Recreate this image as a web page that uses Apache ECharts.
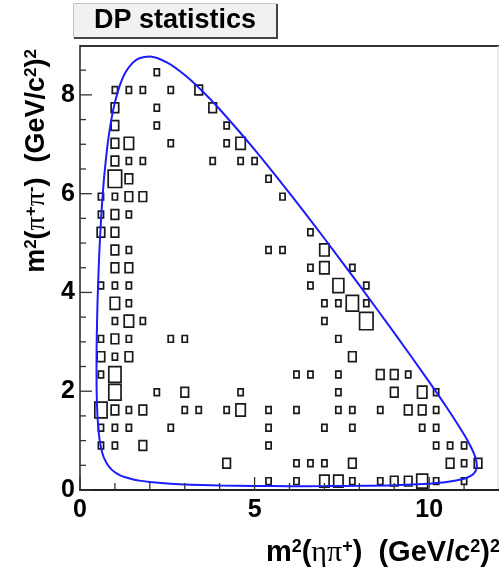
<!DOCTYPE html>
<html><head><meta charset="utf-8">
<script src="https://cdn.jsdelivr.net/npm/echarts@6/dist/echarts.min.js"></script>
<style>html,body{margin:0;padding:0;background:#fff}#c{width:499px;height:569px}</style>
</head><body><div id="c"></div>
<script>
// ---- data ----
const titleText = 'DP statistics';
const xRange = [0, 12];
const yRange = [0, 9];
const xMajor = 5;
const yMajor = 2;
const xMajorTicks = [0, 5, 10];
const xMinorTicks = [1, 2, 3, 4, 6, 7, 8, 9, 11];
const yMajorTicks = [0, 2, 4, 6, 8];
const yMinorTicks = [0.5, 1, 1.5, 2.5, 3, 3.5, 4.5, 5, 5.5, 6.5, 7, 7.5, 8.5];
const binW = 0.4;   // x bin width (GeV/c^2)^2
const binH = 0.36;  // y bin width
const maxCount = 6;

// filled bins: centre x, centre y, entries
const boxX = [
  2.2,
  1.0,1.4,1.8,2.6,3.4,
  1.0,2.2,3.8,
  1.0,2.2,4.2,
  1.0,1.4,2.6,4.2,4.6,
  1.0,1.4,1.8,3.8,4.6,5.0,
  1.0,1.4,5.4,
  0.6,1.0,1.4,1.8,5.8,
  0.6,1.0,1.4,
  0.6,1.0,6.6,
  1.0,1.4,5.4,5.8,7.0,
  1.0,1.4,6.6,7.0,7.8,
  0.6,1.0,1.4,6.6,7.4,8.2,
  1.0,1.4,7.0,7.4,7.8,8.2,
  1.0,1.4,1.8,7.0,8.2,
  0.6,1.0,1.4,2.6,3.0,7.4,
  0.6,1.0,1.4,7.8,
  0.6,1.0,6.2,6.6,7.4,8.6,9.0,9.4,
  1.0,2.2,3.0,4.6,7.4,9.0,9.8,10.2,
  0.6,1.0,1.4,1.8,3.0,3.4,4.2,4.6,5.4,6.2,7.4,7.8,8.6,9.4,9.8,10.2,
  0.6,1.0,1.4,2.6,5.4,7.0,7.8,9.8,10.2,
  0.6,1.0,1.8,5.4,10.2,10.6,11.0,
  4.2,6.2,6.6,7.0,7.8,10.6,11.0,11.4,
  5.4,6.2,7.0,7.4,7.8,8.6,9.0,9.4,9.8,10.2,11.0
];
const boxY = [
  8.46,
  8.1,8.1,8.1,8.1,8.1,
  7.74,7.74,7.74,
  7.38,7.38,7.38,
  7.02,7.02,7.02,7.02,7.02,
  6.66,6.66,6.66,6.66,6.66,6.66,
  6.3,6.3,6.3,
  5.94,5.94,5.94,5.94,5.94,
  5.58,5.58,5.58,
  5.22,5.22,5.22,
  4.86,4.86,4.86,4.86,4.86,
  4.5,4.5,4.5,4.5,4.5,
  4.14,4.14,4.14,4.14,4.14,4.14,
  3.78,3.78,3.78,3.78,3.78,3.78,
  3.42,3.42,3.42,3.42,3.42,
  3.06,3.06,3.06,3.06,3.06,3.06,
  2.7,2.7,2.7,2.7,
  2.34,2.34,2.34,2.34,2.34,2.34,2.34,2.34,
  1.98,1.98,1.98,1.98,1.98,1.98,1.98,1.98,
  1.62,1.62,1.62,1.62,1.62,1.62,1.62,1.62,1.62,1.62,1.62,1.62,1.62,1.62,1.62,1.62,
  1.26,1.26,1.26,1.26,1.26,1.26,1.26,1.26,1.26,
  0.9,0.9,0.9,0.9,0.9,0.9,0.9,
  0.54,0.54,0.54,0.54,0.54,0.54,0.54,0.54,
  0.18,0.18,0.18,0.18,0.18,0.18,0.18,0.18,0.18,0.18,0.18
];
const boxN = [
  1,
  1,1,1,1,2,
  2,1,2,
  2,1,1,
  2,3,1,1,3,
  2,1,1,1,1,1,
  6,2,1,
  1,1,2,2,1,
  1,2,1,
  2,2,1,
  2,1,1,1,3,
  2,2,1,3,1,
  1,1,1,1,4,1,
  3,1,1,1,5,1,
  1,3,1,1,6,
  1,2,1,1,1,1,
  2,1,2,2,
  1,5,1,1,1,2,2,1,
  5,1,2,1,1,2,3,1,
  5,2,1,2,1,1,1,3,1,1,1,1,1,2,2,1,
  1,1,1,1,1,1,1,1,1,
  1,1,2,1,1,1,1,
  2,1,1,1,2,2,1,2,
  1,1,3,3,1,1,2,2,4,1,1
];

// Dalitz-plot boundary
const curveX = [0.4726,0.475,0.48,0.5,0.55,0.6,0.65,0.7,0.8,0.9,1.0,1.15,1.3,1.5,1.7,2.0,2.5,3.0,3.5,4.0,5.0,6.0,7.0,8.0,9.0,10.0,10.5,11.0,11.2,11.3,11.35,11.3645,
  11.35,11.3,11.2,11.0,10.5,10.0,9.0,8.0,7.0,6.0,5.0,4.0,3.5,3.0,2.5,2.0,1.7,1.5,1.3,1.15,1.0,0.9,0.8,0.7,0.65,0.6,0.55,0.5,0.48,0.475,0.4726];
const curveY = [2.441,2.798,3.087,3.757,4.757,5.445,5.975,6.401,7.047,7.509,7.851,8.212,8.451,8.644,8.743,8.777,8.652,8.401,8.078,7.709,6.892,6.010,5.092,4.147,3.182,2.190,1.675,1.122,0.865,0.705,0.587,0.498,
  0.423,0.354,0.291,0.228,0.160,0.129,0.098,0.085,0.079,0.078,0.082,0.091,0.0996,0.111,0.130,0.161,0.190,0.217,0.257,0.298,0.359,0.417,0.500,0.629,0.725,0.862,1.077,1.501,1.901,2.120,2.441];

// ---- chart ----
const chart = echarts.init(document.getElementById('c'), null, {renderer: 'canvas'});
const boxData = boxX.map((x, i) => [x, boxY[i], boxN[i]]);
const curveData = curveX.map((x, i) => [x, curveY[i]]);
// tick marks: [x, y, kind]  kind: 1 = x major, 0 = x minor, 3 = y major, 2 = y minor
const tickData = []
  .concat(xMajorTicks.map(v => [v, yRange[0], 1]))
  .concat(xMinorTicks.map(v => [v, yRange[0], 0]))
  .concat(yMajorTicks.map(v => [xRange[0], v, 3]))
  .concat(yMinorTicks.map(v => [xRange[0], v, 2]));

const FONT = '"Liberation Sans", Arial, Helvetica, sans-serif';
const SERIF = '"Liberation Serif", "Times New Roman", serif';

const labelStyle = {color: '#000', fontFamily: FONT, fontWeight: 'bold', fontSize: 25};
function richSet(big, sup) {
  return {
    b: {fontFamily: FONT, fontWeight: 'bold', fontSize: big, color: '#000'},
    g: {fontFamily: SERIF, fontSize: big + 1, color: '#000'},
    s: {fontFamily: FONT, fontWeight: 'bold', fontSize: sup, color: '#000', verticalAlign: 'top'}
  };
}

chart.setOption({
  animation: false,
  backgroundColor: '#fff',
  grid: {left: 80, top: 45.5, width: 419, height: 444.5, containLabel: false},
  xAxis: {
    type: 'value', min: xRange[0], max: xRange[1], interval: xMajor,
    axisLine: {show: true, onZero: false, lineStyle: {color: '#222', width: 2}},
    axisTick: {show: false},
    splitLine: {show: false},
    axisLabel: Object.assign({margin: 8, showMaxLabel: false}, labelStyle)
  },
  yAxis: {
    type: 'value', min: yRange[0], max: yRange[1], interval: yMajor,
    axisLine: {show: true, onZero: false, lineStyle: {color: '#222', width: 1.5}},
    axisTick: {show: false},
    splitLine: {show: false},
    axisLabel: Object.assign({margin: 5, showMaxLabel: false}, labelStyle)
  },
  series: [{
    type: 'custom',
    data: tickData,
    z: 6,
    silent: true,
    renderItem: function (params, api) {
      const kind = api.value(2);
      const p = api.coord([api.value(0), api.value(1)]);
      let q;
      if (kind >= 2) {
        q = [p[0] + (kind === 3 ? 12 : 6), p[1]];
      } else {
        q = [p[0], p[1] - (kind === 1 ? 13 : 7)];
      }
      return {
        type: 'line',
        shape: {x1: p[0], y1: p[1], x2: q[0], y2: q[1]},
        style: {stroke: '#333', lineWidth: 1.3}
      };
    }
  }, {
    type: 'custom',
    data: boxData,
    z: 2,
    renderItem: function (params, api) {
      const c = api.coord([api.value(0), api.value(1)]);
      const s = api.size([binW, binH]);
      const f = Math.sqrt(api.value(2) / maxCount);
      const w = s[0] * f - 0.5, h = s[1] * f - 0.5;
      return {
        type: 'rect',
        shape: {x: c[0] - w / 2, y: c[1] - h / 2, width: w, height: h},
        style: {fill: 'none', stroke: '#1a1a1a', lineWidth: 1.7}
      };
    }
  }, {
    type: 'line',
    data: curveData,
    z: 5,
    showSymbol: false,
    smooth: 0.3,
    lineStyle: {color: '#1c1cff', width: 2}
  }],
  graphic: [
    {type: 'line', shape: {x1: 80, y1: 46, x2: 499, y2: 46}, style: {stroke: '#333', lineWidth: 2}},
    {type: 'line', shape: {x1: 498, y1: 46, x2: 498, y2: 490}, style: {stroke: '#d8d8d8', lineWidth: 1}},
    {type: 'rect', shape: {x: 73.5, y: 3.5, width: 203, height: 34}, style: {fill: '#f1f1f1', stroke: '#c4c4c4', lineWidth: 1}},
    {type: 'polyline', shape: {points: [[74, 38], [277, 38], [277, 4]]}, style: {stroke: '#444', lineWidth: 2, fill: 'none'}},
    {type: 'text', x: 175, y: 21, style: {text: titleText, font: 'bold 27px ' + FONT, fill: '#000', align: 'center', verticalAlign: 'middle'}},
    {type: 'text', x: 500, y: 553, style: {
      text: '{b|m}{s|2}{b|(}{g|ηπ}{s|+}{b|)  (GeV/c}{s|2}{b|)}{s|2}',
      rich: richSet(29, 18), align: 'right', verticalAlign: 'middle'}},
    {type: 'text', x: 37, y: 161, rotation: Math.PI / 2, style: {
      text: '{b|m}{s|2}{b|(}{g|π}{s|+}{g|π}{s|-}{b|)  (GeV/c}{s|2}{b|)}{s|2}',
      rich: richSet(27, 17), align: 'center', verticalAlign: 'middle'}}
  ]
});
</script></body></html>
